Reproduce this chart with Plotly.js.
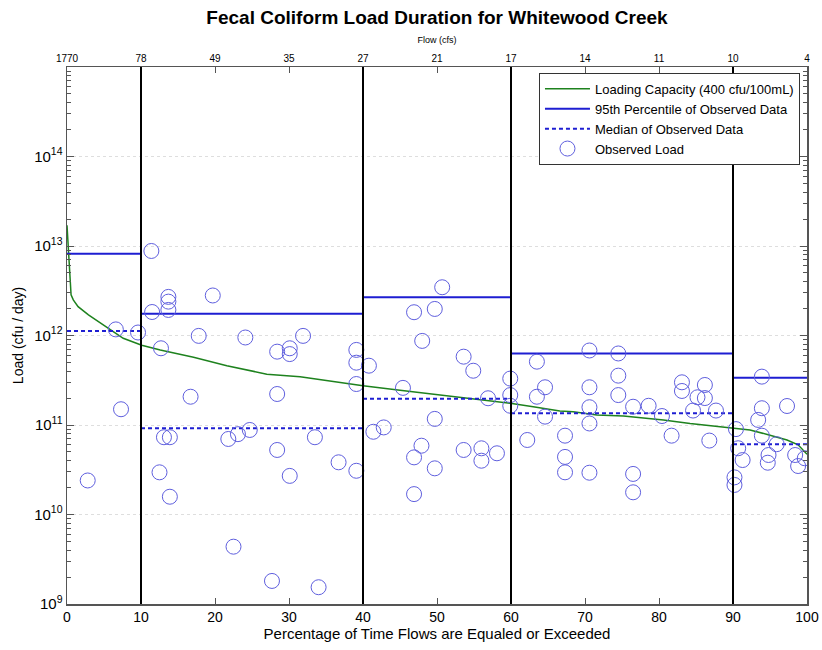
<!DOCTYPE html>
<html><head><meta charset="utf-8">
<script src="https://cdn.plot.ly/plotly-3.0.1.min.js"></script>
<style>html,body{margin:0;padding:0;background:#fff}#chart{width:822px;height:650px}</style>
</head><body><div id="chart"></div>
<script>
// Loading capacity curve (percent of time exceeded, load cfu/day)
const capacityPct  = [0, 0.3, 0.55, 0.85, 1.5, 2.9, 4.2, 5.6, 7.6, 10.1, 12.6, 17.1, 21.6, 27.0, 31.5, 36, 40, 45, 49.5, 53, 56.7, 59.9, 63, 66.6, 68.4, 71.6, 75.2, 78, 80.6, 84.2, 87.8, 89.8, 92.3, 95, 97.3, 98.8, 99.7, 100];
const capacityLoad = [1.7e13, 6.1e12, 2.84e12, 2.5e12, 2.1e12, 1.7e12, 1.45e12, 1.2e12, 9.3e11, 7.8e11, 6.9e11, 5.7e11, 4.6e11, 3.7e11, 3.47e11, 3.05e11, 2.75e11, 2.45e11, 2.22e11, 2.05e11, 1.9e11, 1.75e11, 1.6e11, 1.43e11, 1.41e11, 1.29e11, 1.26e11, 1.2e11, 1.14e11, 1.04e11, 9.7e10, 9.3e10, 8.8e10, 7.7e10, 6.8e10, 6.0e10, 5.0e10, 4.7e10];

// Flow zones and statistics of observed data
const zoneBounds = [0, 10, 40, 60, 90, 100];
const p95Load    = [8.2e12, 1.75e12, 2.67e12, 6.3e11, 3.38e11];
const medianLoad = [1.12e12, 9.2e10, 1.97e11, 1.35e11, 6.1e10];

// Observed loads
const obsPct = [
  2.8, 7.3, 6.6, 9.6,
  11.4, 11.5, 13.7, 13.7, 13.7, 12.7, 12.5, 13.1, 13.9, 13.9, 16.7, 17.8, 19.7, 21.8, 22.5, 23.1, 24.1, 24.7,
  27.7, 28.4, 28.4, 28.4, 30.1, 30.1, 30.1, 31.9, 33.5, 34.0, 36.7, 39.1, 39.1, 39.1, 39.1,
  40.8, 41.4, 42.8, 45.4, 46.9, 49.7, 50.7, 48.0, 53.6, 54.9, 56.9, 49.7, 47.9, 46.9, 49.7, 46.9, 53.6, 56.0, 56.0, 58.1, 59.9, 59.9, 59.9,
  62.2, 63.5, 64.6, 63.5, 64.6, 67.3, 67.3, 67.3, 70.6, 74.5, 74.5, 70.6, 74.5, 70.6, 70.6, 70.6, 76.5, 76.5, 76.5, 78.6, 80.4, 81.7, 83.1, 83.1, 84.6, 85.2, 86.2, 86.2, 87.7, 86.8,
  93.9, 93.9, 97.3, 93.4, 93.9, 95.9, 90.4, 90.7, 91.3, 90.2, 90.2, 94.8, 94.7, 98.4, 98.8, 99.7
];
const obsLoad = [
  2.4e10, 1.5e11, 1.17e12, 1.08e12,
  8.8e12, 1.83e12, 2.7e12, 2.39e12, 1.93e12, 7.2e11, 2.96e10, 7.3e10, 7.3e10, 1.58e10, 2.07e11, 9.9e11, 2.8e12, 6.98e10, 4.37e9, 7.9e10, 9.5e11, 8.8e10,
  1.81e9, 6.6e11, 2.22e11, 5.26e10, 7.2e11, 6.2e11, 2.7e10, 9.9e11, 7.3e10, 1.54e9, 3.83e10, 6.9e11, 4.97e11, 2.87e11, 3.08e10,
  4.6e11, 8.4e10, 9.4e10, 2.6e11, 1.82e12, 1.98e12, 3.46e12, 8.7e11, 5.8e11, 4.04e11, 1.99e11, 1.17e11, 5.87e10, 4.35e10, 3.28e10, 1.69e10, 5.26e10, 5.49e10, 3.99e10, 4.83e10, 3.3e11, 2.16e11, 1.64e11,
  6.8e10, 5.1e11, 2.64e11, 2.07e11, 1.24e11, 7.6e10, 4.4e10, 2.96e10, 6.8e11, 6.3e11, 3.56e11, 2.64e11, 2.16e11, 1.58e11, 1.04e11, 2.93e10, 1.6e11, 2.84e10, 1.77e10, 1.64e11, 1.26e11, 7.6e10, 3.0e11, 2.4e11, 1.45e11, 2.04e11, 2.0e11, 2.8e11, 1.45e11, 6.7e10,
  3.47e11, 1.54e11, 1.63e11, 1.14e11, 7.6e10, 6.1e10, 9.0e10, 5.5e10, 4.06e10, 2.6e10, 2.14e10, 4.62e10, 3.79e10, 4.62e10, 3.48e10, 4.25e10
];

// Axis ticks
const pctTicks = [0, 10, 20, 30, 40, 50, 60, 70, 80, 90, 100];
const flowTickLabels = ['1770', '78', '49', '35', '27', '21', '17', '14', '11', '10', '4'];
const loadTickVals = [1e9, 1e10, 1e11, 1e12, 1e13, 1e14];
const loadTickText = ['10<sup>9</sup>', '10<sup>10</sup>', '10<sup>11</sup>', '10<sup>12</sup>', '10<sup>13</sup>', '10<sup>14</sup>'];

const minorVals = [];
for (let d = 9; d < 15; d++) for (let k = 2; k <= 9; k++) minorVals.push(k * Math.pow(10, d));

function zoneSegments(vals) {
  const x = [], y = [];
  vals.forEach((v, i) => { x.push(zoneBounds[i], zoneBounds[i + 1], null); y.push(v, v, null); });
  return { x, y };
}
const p95 = zoneSegments(p95Load);
const med = zoneSegments(medianLoad);

const FONT = 'Liberation Sans, Arial, Helvetica, sans-serif';
const axisColor = '#555';

const traces = [
  { x: capacityPct, y: capacityLoad, mode: 'lines', name: 'Loading Capacity (400 cfu/100mL)',
    line: { color: 'rgb(30,130,30)', width: 1.5 } },
  { x: p95.x, y: p95.y, mode: 'lines', name: '95th Percentile of Observed Data',
    line: { color: 'rgb(30,30,210)', width: 2 }, connectgaps: false },
  { x: med.x, y: med.y, mode: 'lines', name: 'Median of Observed Data',
    line: { color: 'rgb(30,30,210)', width: 2, dash: '4px,3px' }, connectgaps: false },
  { x: obsPct, y: obsLoad, mode: 'markers', name: 'Observed Load',
    marker: { symbol: 'circle-open', size: 15, color: 'rgb(95,95,222)', line: { width: 1, color: 'rgb(95,95,222)' } } },
  { x: [0, 100], y: [1e9, 1e9], xaxis: 'x2', mode: 'none', showlegend: false, hoverinfo: 'skip' }
];

const shapes = zoneBounds.slice(1, -1).map(b => ({
  type: 'line', xref: 'x', yref: 'paper', x0: b, x1: b, y0: 0, y1: 1,
  line: { color: '#000', width: 2 }, layer: 'above'
}));

const layout = {
  width: 822, height: 650,
  margin: { l: 67, r: 15, t: 67, b: 46 },
  paper_bgcolor: '#fff', plot_bgcolor: '#fff',
  font: { family: FONT, color: '#000' },
  showlegend: true,
  title: { text: '<b>Fecal Coliform Load Duration for Whitewood Creek</b>', font: { size: 19, family: FONT },
           x: 0.5, xref: 'paper', xanchor: 'center', y: 1 - 17 / 650, yref: 'container', yanchor: 'middle' },
  xaxis: {
    range: [0, 100], tickmode: 'array', tickvals: pctTicks, ticks: 'inside', ticklen: 6, tickcolor: axisColor,
    showline: true, linecolor: axisColor, linewidth: 1.5, showgrid: false, zeroline: false,
    tickfont: { size: 14 }, automargin: false,
    title: { text: 'Percentage of Time Flows are Equaled or Exceeded', font: { size: 15 }, standoff: 4 }
  },
  xaxis2: {
    overlaying: 'x', side: 'top', anchor: 'y', range: [0, 100], tickmode: 'array', tickvals: pctTicks, ticktext: flowTickLabels,
    ticks: 'inside', ticklen: 6, tickcolor: axisColor, showline: true, linecolor: axisColor, linewidth: 1.5,
    showgrid: false, zeroline: false, tickfont: { size: 10 }, automargin: false,
    title: { text: 'Flow (cfs)', font: { size: 9 }, standoff: 7 }
  },
  yaxis: {
    type: 'log', range: [9, 15], tickmode: 'array', tickvals: loadTickVals, ticktext: loadTickText,
    ticks: 'inside', ticklen: 7, tickcolor: axisColor, showline: true, mirror: 'ticks', linecolor: axisColor, linewidth: 1.5,
    showgrid: true, gridcolor: '#dedede', griddash: '3px,3px', gridwidth: 1, zeroline: false,
    tickfont: { size: 15 }, automargin: false,
    minor: { tickmode: 'array', tickvals: minorVals, ticks: 'inside', ticklen: 4, tickcolor: axisColor, showgrid: false },
    title: { text: 'Load (cfu / day)', font: { size: 14 }, standoff: 7 }
  },
  legend: {
    x: 0.9905, xanchor: 'right', y: 0.989, yanchor: 'top', bgcolor: '#fff', bordercolor: '#333', borderwidth: 1,
    font: { size: 13, family: FONT }, itemwidth: 45, tracegroupgap: 0
  },
  shapes: shapes
};

Plotly.newPlot('chart', traces, layout, { displayModeBar: false, staticPlot: true });
</script>
</body></html>
